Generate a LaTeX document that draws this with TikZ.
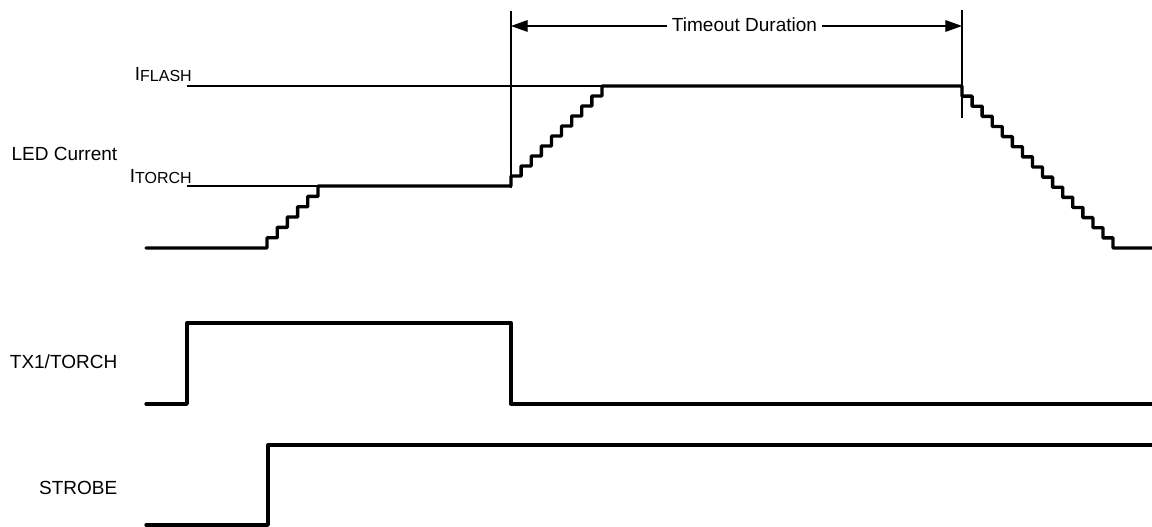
\documentclass[tikz,border=0pt]{standalone}
\usepackage{fontspec}
\setmainfont{Liberation Sans}
\usepackage{tikz}
\usetikzlibrary{arrows.meta}
\definecolor{sigline}{RGB}{0,0,0}
\definecolor{refline}{RGB}{0,0,0}
\tikzset{
  wave/.style={draw=sigline, line width=2.5pt, line join=round,
               line cap=round},
  guide/.style={draw=refline, line width=0.8pt},
  dimarrow/.style={guide, {Triangle[length=12.5pt, width=8.75pt]}-{Triangle[length=12.5pt, width=8.75pt]}},
  lblfont/.style={font=\fontsize{14.25}{17}\selectfont},
  siglabel/.style={lblfont, anchor=base east, inner sep=0pt},
  levellabel/.style={siglabel},
}
\newcommand{\lvlname}[1]{I\raisebox{-0.9pt}{\fontsize{12}{14}\selectfont #1}}

\begin{document}
\begin{tikzpicture}[x=0.75pt, y=-0.75pt]
\useasboundingbox (0,0) rectangle (1152,527);
% signal names, right aligned against the traces
\node[siglabel] (ledlbl) at (117.5,161) {LED Current};
\node[siglabel] (txlbl) at (117.5,368) {TX1/TORCH};
\node[siglabel] (strobelbl) at (117.5,494) {STROBE};
% current levels
\coordinate (flashref) at (187,86);
\coordinate (torchref) at (187,186);
\coordinate (torchtop) at (318,186);
\coordinate (flashtop) at (962,86);
\node[levellabel] (iflash) at (192,80.5) {\lvlname{FLASH}};
\node[levellabel] (itorch) at (192,182.5) {\lvlname{TORCH}};
\draw[guide] (torchref) -- (torchtop);
\draw[guide] (flashref) -- (flashtop);
% timeout window
\coordinate (tstart) at (511,11);
\coordinate (tstartlow) at (511,188);
\coordinate (tend) at (962,10);
\coordinate (tendlow) at (962,118);
\coordinate (arrl) at (511,26);
\coordinate (arrr) at (962,26);
\draw[guide] (tstart) -- (tstartlow);
\draw[guide] (tend) -- (tendlow);
\draw[dimarrow] (arrl) -- (arrr);
\node[lblfont, fill=white, inner sep=4pt] (timeout) at (744.5,25) {Timeout Duration};
% LED current: ramp to torch, ramp to flash, ramp down
\draw[wave] (146,248) -- (267,248)
  foreach \s in {1,...,5} { -- ++(0,-10.33) -- ++(10.2,0) } -- ++(0,-10.33)
  -- (511,186)
  foreach \s in {1,...,9} { -- ++(0,-10) -- ++(10.11,0) } -- ++(0,-10)
  -- (962,86)
  foreach \s in {1,...,15} { -- ++(0,10.125) -- ++(10.07,0) } -- ++(0,10.125)
  -- (1152,248);
% TX1/TORCH and STROBE inputs
\draw[wave] (146,404) -- (187,404) -- (187,323) -- (511,323) -- (511,404)
  -- (1152,404);
\draw[wave] (146,525) -- (268,525) -- (268,445) -- (1152,445);
\end{tikzpicture}
\end{document}
